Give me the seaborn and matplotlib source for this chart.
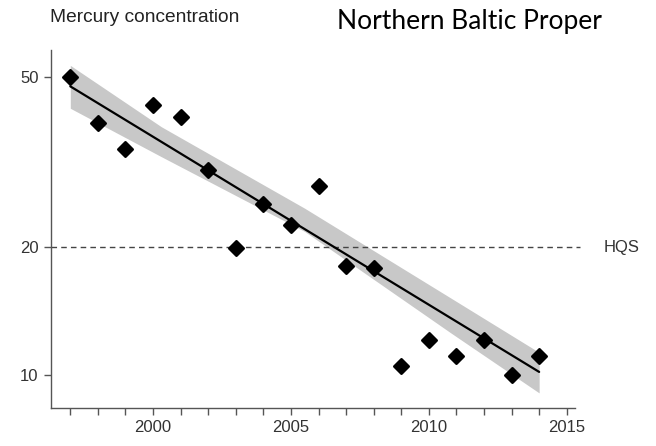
import numpy as np
import pandas as pd
import matplotlib
matplotlib.use("Agg")
import matplotlib.pyplot as plt
import seaborn as sns

# ---- data ----
years = [1997, 1998, 1999, 2000, 2001, 2002, 2003, 2004, 2005,
         2006, 2007, 2008, 2009, 2010, 2011, 2012, 2013, 2014]
mercury = [50.0, 39.0, 33.9, 43.0, 40.3, 30.3, 19.9, 25.2, 22.5,
           27.7, 18.0, 17.8, 10.5, 12.1, 11.1, 12.1, 10.0, 11.1]

# fitted trend and its confidence band
trend_years = [1997, 2014]
trend_values = [47.5, 10.17]
band_years = [1997, 2000.3, 2005.5, 2010.8, 2014]
band_upper = [53.2, 38.2, 24.6, 15.15, 11.3]
band_lower = [42.2, 32.5, 21.7, 12.55, 9.08]

y_ticks = [10, 20, 50]
x_ticks = [2000, 2005, 2010, 2015]
hqs_value = 20
title_left = "Mercury concentration"
title_right = "Northern Baltic Proper"
hqs_label = "HQS"

df = pd.DataFrame({"year": years, "hg": mercury})
trend = pd.DataFrame({"year": trend_years, "hg": trend_values})

sns.set_style("white")
plt.rcParams["font.family"] = ["Liberation Sans", "DejaVu Sans"]

fig = plt.figure(figsize=(6.56, 4.46), dpi=100)
ax = fig.add_axes([51/656, 1 - 408/446, (575 - 51)/656, (408 - 50)/446])
ax.set_yscale("log")

ax.fill_between(band_years, band_lower, band_upper, color="#c8c8c8",
                lw=0, zorder=1)
sns.lineplot(data=trend, x="year", y="hg", ax=ax, color="black", lw=1.6,
             zorder=3)
sns.scatterplot(data=df, x="year", y="hg", ax=ax, marker="D", s=55,
                color="black", edgecolor="black", linewidth=1.8,
                zorder=4)
for coll in ax.collections:
    try:
        coll.set_joinstyle("round")
    except Exception:
        pass

ax.axhline(hqs_value, color="#444444", lw=1.0, dashes=(4, 3), zorder=2,
           clip_on=False, xmax=1.01)

ax.set_xlim(1996.3, 2015.3)
ax.set_ylim(8.37, 57.8)
ax.set_yticks(y_ticks)
ax.set_yticklabels([str(v) for v in y_ticks])
ax.yaxis.set_minor_locator(matplotlib.ticker.NullLocator())
ax.set_xticks(list(range(1997, 2016)))
ax.set_xticklabels([str(y) if y in x_ticks else "" for y in range(1997, 2016)])
ax.set_xlabel("")
ax.set_ylabel("")

for s in ["top", "right"]:
    ax.spines[s].set_visible(False)
for s in ["left", "bottom"]:
    ax.spines[s].set_color("#555555")
    ax.spines[s].set_linewidth(1.0)

ax.tick_params(axis="both", which="both", direction="out", length=5,
               width=1, color="#555555", labelsize=12, labelcolor="#333333",
               left=True, bottom=True, pad=4)

fig.text(50/656, 1 - 17/446, title_left, fontsize=13.8, color="#222222",
         ha="left", va="center")
fig.text(337/656, 1 - 22/446, title_right, fontsize=19, color="black",
         ha="left", va="center", family=["Lato", "DejaVu Sans"])
fig.text(604/656, 1 - 247/446, hqs_label, fontsize=12, color="#333333",
         ha="left", va="center")

fig.savefig("out.png", dpi=100)
